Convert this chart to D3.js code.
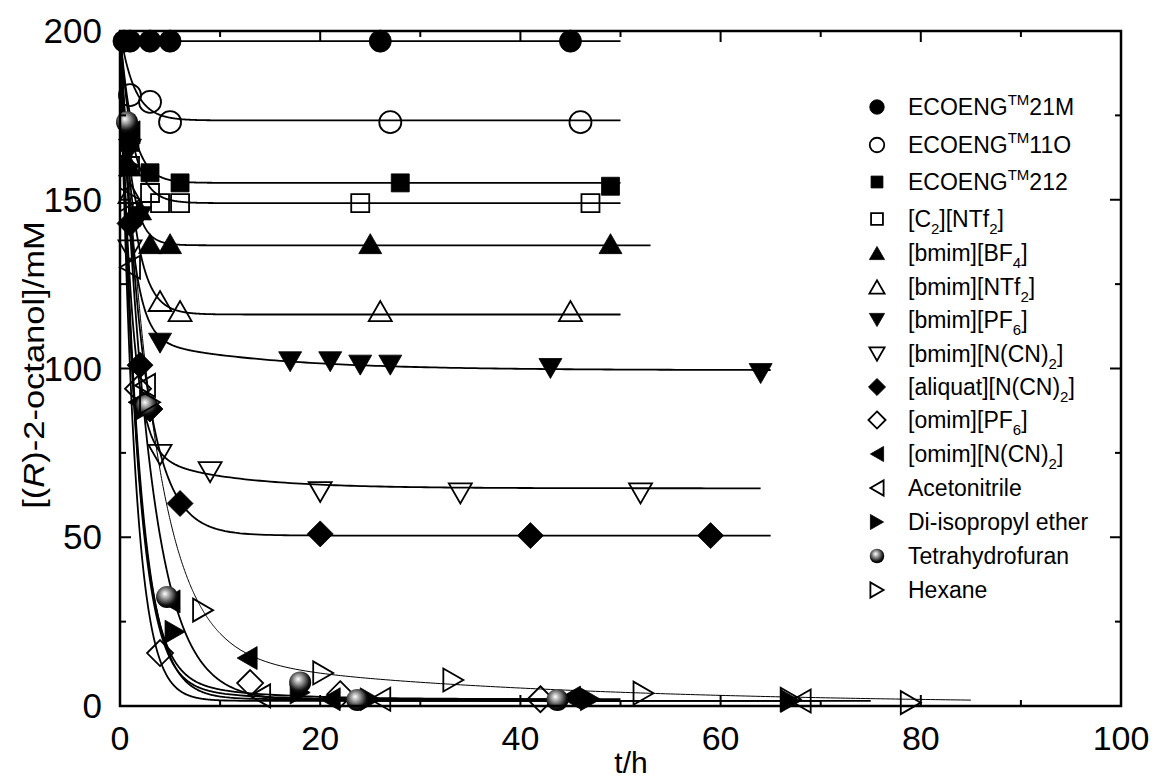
<!DOCTYPE html>
<html>
<head>
<meta charset="utf-8">
<script src="https://cdn.jsdelivr.net/npm/d3@7"></script>
<style>
  body { margin: 0; background: #fff; }
  text { font-family: "Liberation Sans", Arial, sans-serif; fill: #000; }
</style>
</head>
<body>
<svg></svg>
<script>
// Chart size
const width = 1157;
const height = 782;

// Axis ticks
const xMajorTicks = [0, 20, 40, 60, 80, 100];
const xMinorTicks = [10, 30, 50, 70, 90];
const yMajorTicks = [0, 50, 100, 150, 200];
const yMinorTicks = [25, 75, 125, 175];

// Legend labels: [text, "sup" | "sub" | undefined]
const legendLabels = [
    [["ECOENG"], ["TM", "sup"], ["21M"]],
    [["ECOENG"], ["TM", "sup"], ["11O"]],
    [["ECOENG"], ["TM", "sup"], ["212"]],
    [["[C"], ["2", "sub"], ["][NTf"], ["2", "sub"], ["]"]],
    [["[bmim][BF"], ["4", "sub"], ["]"]],
    [["[bmim][NTf"], ["2", "sub"], ["]"]],
    [["[bmim][PF"], ["6", "sub"], ["]"]],
    [["[bmim][N(CN)"], ["2", "sub"], ["]"]],
    [["[aliquat][N(CN)"], ["2", "sub"], ["]"]],
    [["[omim][PF"], ["6", "sub"], ["]"]],
    [["[omim][N(CN)"], ["2", "sub"], ["]"]],
    [["Acetonitrile"]],
    [["Di-isopropyl ether"]],
    [["Tetrahydrofuran"]],
    [["Hexane"]]
];
const markerShapes = ["circle", "circle", "square", "square", "up", "up", "down", "down",
    "diamond", "diamond", "left", "left", "right", "ball", "right"];
const markerFilled = [true, false, true, false, true, false, true, false,
    true, false, true, false, true, true, false];

// Measured points [t (h), concentration (mM)]
const eco21M = [[0.4, 197], [1, 197], [3, 197], [5, 197], [26, 197], [45, 197]];
const eco11O = [[1, 181], [3, 179], [5, 173], [27, 173], [46, 173]];
const eco212 = [[1, 167], [3, 158], [6, 155], [28, 155], [49, 154]];
const c2NTf2 = [[1, 160], [3, 152], [4, 149], [6, 149], [24, 149], [47, 149]];
const bmimBF4 = [[1, 160], [2, 147], [3, 137], [5, 137], [25, 137], [49, 137]];
const bmimNTf2 = [[1, 152], [4, 120], [6, 117], [26, 117], [45, 117]];
const bmimPF6 = [[1, 165], [2, 145], [4, 107.5], [17, 102], [21, 102], [24, 101], [27, 101], [43, 100], [64, 98.5]];
const bmimNCN = [[1, 135], [4, 74.4], [9, 69.3], [20, 63.4], [34, 63], [52, 63]];
const aliquatNCN = [[1, 143], [2, 101], [3, 88], [6, 60], [20, 51], [41, 50.5], [59, 50.5]];
const omimPF6 = [[1.8, 94], [4, 15.7], [13, 6.8], [22, 3.5], [42, 2]];
const omimNCN = [[1, 170], [1.8, 90], [5, 31], [12.7, 14.2], [21, 2], [45, 2.5]];
const acetonitrile = [[1, 130], [2.5, 95], [14, 3], [26, 2], [68, 1.5]];
const diisopropylEther = [[1, 160], [2.5, 88], [5.5, 22], [18, 4], [25, 2], [47, 2], [67, 1.5]];
const thf = [[0.7, 173], [2.7, 89], [4.7, 32.3], [18, 7], [23.7, 1.8], [43.7, 1.8]];
const hexane = [[1, 150], [3, 90], [8.3, 28.4], [20.3, 9.8], [33.3, 7.7], [52.3, 3.8], [67, 2], [79, 1]];

const seriesPoints = [eco21M, eco11O, eco212, c2NTf2, bmimBF4, bmimNTf2, bmimPF6, bmimNCN,
    aliquatNCN, omimPF6, omimNCN, acetonitrile, diisopropylEther, thf, hexane];

// Fitted decay curves: c = plateau + slowAmp*exp(-slowRate t) + rest*exp(-fastRate t)
const fitStart = 200;
const fitPlateau = [197, 173.5, 155, 149, 136.5, 116, 99.5, 64.5, 50.5, 2, 2, 1.5, 1.5, 1.5, 0.5];
const fitFastRate = [3, 0.7, 0.8, 0.8, 1.0, 0.75, 0.9, 0.9, 0.45, 0.6, 0.55, 0.7, 0.6, 0.35, 0.3];
const fitSlowAmp = [0, 0, 0, 0, 0, 0, 10, 12, 0, 8, 0, 0, 5, 0, 16];
const fitSlowRate = [0, 0, 0, 0, 0, 0, 0.08, 0.12, 0, 0.12, 0, 0, 0.1, 0, 0.03];
const fitEnd = [50, 50, 50, 50, 53, 50, 65, 64, 65, 45, 50, 70, 75, 50, 85];

// Scales
const x = d3.scaleLinear().domain([0, 100]).range([120, 1121]);
const y = d3.scaleLinear().domain([0, 200]).range([706, 31]);

const svg = d3.select("svg")
    .attr("width", width)
    .attr("height", height);

const defs = svg.append("defs");
const grad = defs.append("radialGradient").attr("id", "ball")
    .attr("cx", "45%").attr("cy", "40%").attr("r", "60%")
    .attr("fx", "40%").attr("fy", "35%");
grad.append("stop").attr("offset", "0%").attr("stop-color", "#fff");
grad.append("stop").attr("offset", "35%").attr("stop-color", "#999");
grad.append("stop").attr("offset", "80%").attr("stop-color", "#111");
grad.append("stop").attr("offset", "100%").attr("stop-color", "#000");

defs.append("clipPath").attr("id", "plotClip")
    .append("rect")
    .attr("x", x(0)).attr("y", y(200))
    .attr("width", x(100) - x(0)).attr("height", y(0) - y(200));

// Marker path for a given shape and scale
function markerPath(shape, s) {
    const w = 23 * s, h = 20 * s, d = 13 * s, q = 9 * s, r = 11 * s;
    switch (shape) {
        case "circle":
        case "ball":
            return `M${r},0A${r},${r} 0 1,1 ${-r},0A${r},${r} 0 1,1 ${r},0Z`;
        case "square":
            return `M${-q},${-q}H${q}V${q}H${-q}Z`;
        case "up":
            return `M${-w / 2},${h / 2}L${w / 2},${h / 2}L0,${-h / 2}Z`;
        case "down":
            return `M${-w / 2},${-h / 2}L${w / 2},${-h / 2}L0,${h / 2}Z`;
        case "left":
            return `M${h / 2},${-w / 2}L${h / 2},${w / 2}L${-h / 2},0Z`;
        case "right":
            return `M${-h / 2},${-w / 2}L${-h / 2},${w / 2}L${h / 2},0Z`;
        case "diamond":
            return `M0,${-d}L${d},0L0,${d}L${-d},0Z`;
    }
}

function styleMarker(sel, i, s) {
    const shape = markerShapes[i];
    sel.attr("d", markerPath(shape, s))
        .attr("fill", shape === "ball" ? "url(#ball)" : (markerFilled[i] ? "#000" : "none"))
        .attr("stroke", shape === "ball" ? "none" : "#000")
        .attr("stroke-width", markerFilled[i] ? 0.8 : 1.8);
}

// Fit curves
const line = d3.line().x(d => x(d[0])).y(d => y(d[1]));
const curveGroup = svg.append("g").attr("clip-path", "url(#plotClip)");
fitPlateau.forEach((p, i) => {
    const rest = fitStart - p - fitSlowAmp[i];
    const ts = d3.range(0, 10, 0.05).concat(d3.range(10, fitEnd[i], 0.5), [fitEnd[i]]);
    const pts = ts.map(t => [t, p + fitSlowAmp[i] * Math.exp(-fitSlowRate[i] * t) + rest * Math.exp(-fitFastRate[i] * t)]);
    curveGroup.append("path")
        .attr("d", line(pts))
        .attr("fill", "none")
        .attr("stroke", "#000")
        .attr("stroke-width", i === 14 ? 1 : 1.8);
});

// Data markers
seriesPoints.forEach((pts, i) => {
    svg.append("g").selectAll("path")
        .data(pts)
        .enter().append("path")
        .attr("transform", d => `translate(${x(d[0])},${y(d[1])})`)
        .call(sel => styleMarker(sel, i, 1));
});

// Frame and inward ticks on all four sides
svg.append("rect")
    .attr("x", x(0)).attr("y", y(200))
    .attr("width", x(100) - x(0)).attr("height", y(0) - y(200))
    .attr("fill", "none").attr("stroke", "#000").attr("stroke-width", 2.5);

const ticks = svg.append("g").attr("stroke", "#000").attr("stroke-width", 2);
[[xMajorTicks, 11], [xMinorTicks, 6]].forEach(([vals, len]) => {
    vals.forEach(v => {
        ticks.append("line").attr("x1", x(v)).attr("x2", x(v)).attr("y1", y(0)).attr("y2", y(0) - len);
        ticks.append("line").attr("x1", x(v)).attr("x2", x(v)).attr("y1", y(200)).attr("y2", y(200) + len);
    });
});
[[yMajorTicks, 11], [yMinorTicks, 6]].forEach(([vals, len]) => {
    vals.forEach(v => {
        ticks.append("line").attr("x1", x(0)).attr("x2", x(0) + len).attr("y1", y(v)).attr("y2", y(v));
        ticks.append("line").attr("x1", x(100)).attr("x2", x(100) - len).attr("y1", y(v)).attr("y2", y(v));
    });
});

// Tick labels
svg.append("g").selectAll("text")
    .data(xMajorTicks)
    .enter().append("text")
    .attr("x", d => x(d)).attr("y", 750)
    .attr("text-anchor", "middle")
    .attr("font-size", 34)
    .text(d => d);

svg.append("g").selectAll("text")
    .data(yMajorTicks)
    .enter().append("text")
    .attr("x", 102).attr("y", d => y(d) + 12)
    .attr("text-anchor", "end")
    .attr("font-size", 35)
    .text(d => d);

// Axis titles
svg.append("text")
    .attr("x", 631).attr("y", 773)
    .attr("text-anchor", "middle")
    .attr("font-size", 30)
    .text("t/h");

const yTitle = svg.append("text")
    .attr("transform", "translate(44,365) rotate(-90) scale(1.15,1)")
    .attr("text-anchor", "middle")
    .attr("font-size", 30);
yTitle.append("tspan").text("[(");
yTitle.append("tspan").attr("font-style", "italic").text("R");
yTitle.append("tspan").text(")-2-octanol]/mM");

// Legend
const legendBaselines = [115, 153, 190, 227, 261, 295, 328, 362, 395, 428, 462, 496, 530, 564, 598];
legendLabels.forEach((segs, i) => {
    const yb = legendBaselines[i];
    svg.append("path")
        .attr("transform", `translate(877,${yb - 8})`)
        .call(sel => styleMarker(sel, i, 0.66));
    const t = svg.append("text").attr("x", 908).attr("y", yb).attr("font-size", 23);
    let shift = 0;
    segs.forEach(([txt, mode]) => {
        const target = mode === "sup" ? -10 : mode === "sub" ? 7 : 0;
        t.append("tspan")
            .attr("dy", target - shift)
            .attr("font-size", mode ? 15 : 23)
            .text(txt);
        shift = target;
    });
});
</script>
</body>
</html>
